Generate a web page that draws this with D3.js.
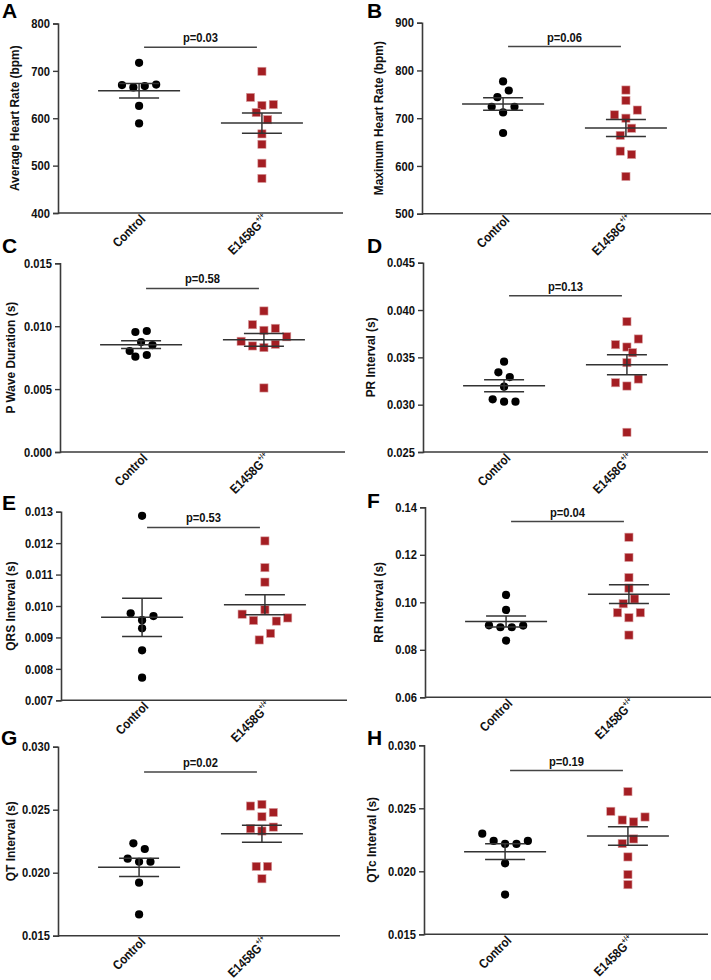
<!DOCTYPE html>
<html>
<head>
<meta charset="utf-8">
<script src="https://cdn.jsdelivr.net/npm/d3@7"></script>
<style>
  body { margin: 0; background: #fff; }
  svg { display: block; }
  .narrow { font-family: "Liberation Sans", Arial, sans-serif; font-weight: bold; }
  .letter { font-family: "Liberation Sans", Arial, sans-serif; font-weight: bold; font-size: 21px; }
</style>
</head>
<body>
<script>
const groups = ['Control', 'E1458G'];
const letters = ['A', 'B', 'C', 'D', 'E', 'F', 'G', 'H'];
const yLabels = ['Average Heart Rate (bpm)', 'Maximum Heart Rate (bpm)', 'P Wave Duration (s)', 'PR Interval (s)',
  'QRS Interval (s)', 'RR Interval (s)', 'QT Interval (s)', 'QTc Interval (s)'];
const pLabels = ['p=0.03', 'p=0.06', 'p=0.58', 'p=0.13', 'p=0.53', 'p=0.04', 'p=0.02', 'p=0.19'];
// height of the p-value bar, in each panel's own units
const pBarLevels = [750, 850, 0.013, 0.0415, 0.0125, 0.134, 0.028, 0.028];

// A: average heart rate
const avgHrCtrl = [717, 670, 665, 668, 671, 626, 589];
const avgHrMut = [699, 644, 627, 629, 612, 597, 567, 545, 505, 473];
const avgHrTicks = ['400', '500', '600', '700', '800'];
// B: maximum heart rate
const maxHrCtrl = [777, 744, 758, 724, 712, 724, 669];
const maxHrMut = [759, 737, 707, 700, 717, 664, 679, 631, 624, 578];
const maxHrTicks = ['500', '600', '700', '800', '900'];
// C: P wave duration
const pWaveCtrl = [0.00954, 0.00962, 0.00803, 0.00874, 0.0085, 0.00758, 0.00771];
const pWaveMut = [0.01121, 0.01012, 0.00967, 0.00983, 0.0088, 0.00843, 0.0083, 0.00856, 0.00916, 0.00509];
const pWaveTicks = ['0.000', '0.005', '0.010', '0.015'];
// D: PR interval
const prCtrl = [0.03454, 0.03342, 0.03292, 0.0319, 0.03056, 0.03032, 0.03032];
const prMut = [0.03877, 0.03634, 0.03609, 0.03694, 0.03549, 0.03444, 0.03232, 0.03197, 0.03271, 0.02708];
const prTicks = ['0.025', '0.030', '0.035', '0.040', '0.045'];
// E: QRS interval
const qrsCtrl = [0.01287, 0.00977, 0.00955, 0.00968, 0.00929, 0.00859, 0.00772];
const qrsMut = [0.01207, 0.01122, 0.01076, 0.00974, 0.00954, 0.00988, 0.00952, 0.00962, 0.00892, 0.00913];
const qrsTicks = ['0.007', '0.008', '0.009', '0.010', '0.011', '0.012', '0.013'];
// F: RR interval
const rrCtrl = [0.1031, 0.0968, 0.0903, 0.0895, 0.0895, 0.0902, 0.0839];
const rrMut = [0.1274, 0.1189, 0.1104, 0.106, 0.0994, 0.1014, 0.0956, 0.0935, 0.0956, 0.0862];
const rrTicks = ['0.06', '0.08', '0.10', '0.12', '0.14'];
// G: QT interval
const qtCtrl = [0.02233, 0.02188, 0.02111, 0.02087, 0.02087, 0.01921, 0.01669];
const qtMut = [0.02529, 0.02542, 0.02478, 0.02444, 0.02349, 0.02331, 0.02362, 0.0205, 0.0205, 0.01952];
const qtTicks = ['0.015', '0.020', '0.025', '0.030'];
// H: QTc interval
const qtcCtrl = [0.02299, 0.02241, 0.02217, 0.02217, 0.02241, 0.02063, 0.01815];
const qtcMut = [0.02632, 0.02476, 0.02407, 0.02392, 0.02431, 0.0222, 0.02257, 0.02114, 0.01974, 0.01894];
const qtcTicks = ['0.015', '0.020', '0.025', '0.030'];

const seriesCtrl = [avgHrCtrl, maxHrCtrl, pWaveCtrl, prCtrl, qrsCtrl, rrCtrl, qtCtrl, qtcCtrl];
const seriesMut = [avgHrMut, maxHrMut, pWaveMut, prMut, qrsMut, rrMut, qtMut, qtcMut];
const tickSets = [avgHrTicks, maxHrTicks, pWaveTicks, prTicks, qrsTicks, rrTicks, qtTicks, qtcTicks];

// plot frames: [axis x, right end, top, bottom]
const frames = [
  [58, 343, 23.5, 213], [422, 711, 22.7, 213.7],
  [60, 345, 263.3, 452], [423, 708, 262.7, 452],
  [61, 347, 511.7, 700.3], [425, 711, 507.3, 697.3],
  [58, 340, 746.7, 935.7], [424, 708, 745.3, 934.3]
];
const letterPos = [[2, 18], [367, 18], [2, 253], [367, 253], [2, 510], [367, 508], [1, 745], [367, 745]];

const axisColor = '#3a3a3a';
const red = '#a41e23';
const mark = 8.2;   // marker size
const half = 5.7;   // horizontal spread step

const svg = d3.select('body').append('svg').attr('width', 711).attr('height', 980);

// the figure uses a narrow face: squeeze the regular bold one
function narrow(sel, factor) {
  sel.each(function() {
    const w = this.getComputedTextLength();
    d3.select(this).attr('textLength', w * (factor || 0.86)).attr('lengthAdjust', 'spacingAndGlyphs');
  });
}

// spread points that sit at almost the same height into centred rows
function spread(values, y) {
  const pts = values.map(function(v, i) { return { v: v, i: i, py: y(v), dx: 0 }; });
  const sorted = pts.slice().sort(function(a, b) { return a.py - b.py; });
  const rows = [];
  let row = null;
  sorted.forEach(function(p) {
    if (row && p.py - row[row.length - 1].py < 8.5 && p.py - row[0].py < 11.8) row.push(p);
    else { row = [p]; rows.push(row); }
  });
  const placed = [];
  rows.forEach(function(r) {
    r.sort(function(a, b) { return a.i - b.i; });
    const base = r.map(function(p, k) { return (k - (r.length - 1) / 2) * 2 * half; });
    const shifts = [0, 1, -1, 2, -2, 3, -3, 4, -4];
    for (const s of shifts) {
      const ok = r.every(function(p, k) {
        const x = base[k] + s * half;
        return placed.every(function(q) { return Math.hypot(x - q.dx, p.py - q.py) >= 8; });
      });
      if (ok) {
        r.forEach(function(p, k) { p.dx = base[k] + s * half; });
        break;
      }
    }
    r.forEach(function(p) { placed.push(p); });
  });
  return pts;
}

function panel(k) {
  const f = frames[k];
  const ticks = tickSets[k].map(Number);
  const g = svg.append('g');

  const x = d3.scalePoint().domain(groups).range([f[0], f[0] + 285]).padding(0.66);
  const y = d3.scaleLinear().domain([ticks[0], ticks[ticks.length - 1]]).range([f[3], f[2]]);

  // y axis
  const yAxis = g.append('g')
    .attr('transform', 'translate(' + f[0] + ',0)')
    .call(d3.axisLeft(y).tickValues(ticks).tickSizeOuter(0).tickSize(5).tickPadding(3)
      .tickFormat(function(d, i) { return tickSets[k][i]; }));
  yAxis.select('.domain').attr('stroke', axisColor).attr('stroke-width', 1.6);
  yAxis.selectAll('.tick line').attr('stroke', axisColor).attr('stroke-width', 1.4);
  yAxis.selectAll('.tick text').attr('class', 'narrow').attr('font-size', 13).attr('fill', '#111')
    .call(narrow);

  // x axis line
  g.append('line')
    .attr('x1', f[0]).attr('x2', f[1]).attr('y1', f[3]).attr('y2', f[3])
    .attr('stroke', axisColor).attr('stroke-width', 1.6);

  // x labels
  const xl = g.append('g').selectAll('text').data(groups).enter().append('text')
    .attr('class', 'narrow').attr('font-size', 13).attr('fill', '#111')
    .attr('text-anchor', 'end')
    .attr('transform', function(d) { return 'translate(' + (x(d) + 7) + ',' + (f[3] + 7) + ') rotate(-45)'; });
  xl.append('tspan').text(function(d) { return d; }).call(narrow);
  xl.filter(function(d) { return d !== 'Control'; })
    .append('tspan').attr('font-size', 7.5).attr('dy', -6).text('+/+').call(narrow);

  // y label
  const tb = yAxis.node().getBBox();
  const cy = (f[2] + f[3]) / 2;
  const lx = Math.max(f[0] + tb.x - 12, (k % 2 ? 355 : 0) + 15);
  g.append('text').attr('class', 'narrow').attr('font-size', 12.8).attr('fill', '#111')
    .attr('text-anchor', 'middle')
    .attr('transform', 'translate(' + lx + ',' + cy + ') rotate(-90)')
    .text(yLabels[k]).call(narrow, 0.93);

  // panel letter
  g.append('text').attr('class', 'letter').attr('x', letterPos[k][0]).attr('y', letterPos[k][1]).text(letters[k]);

  // points
  const ctrl = spread(seriesCtrl[k], y);
  const mut = spread(seriesMut[k], y);
  g.append('g').selectAll('circle').data(ctrl).enter().append('circle')
    .attr('cx', function(d) { return x(groups[0]) + d.dx; })
    .attr('cy', function(d) { return d.py; })
    .attr('r', mark / 2).attr('fill', '#000');
  g.append('g').selectAll('rect').data(mut).enter().append('rect')
    .attr('x', function(d) { return x(groups[1]) + d.dx - mark / 2; })
    .attr('y', function(d) { return d.py - mark / 2; })
    .attr('width', mark).attr('height', mark)
    .attr('fill', red).attr('stroke', '#d9a0a2').attr('stroke-width', 0.6);

  // mean and SEM
  [seriesCtrl[k], seriesMut[k]].forEach(function(vals, gi) {
    const m = d3.mean(vals);
    const sem = d3.deviation(vals) / Math.sqrt(vals.length);
    const cx = x(groups[gi]);
    const eg = g.append('g').attr('stroke', '#333').attr('stroke-width', 1.5);
    eg.append('line').attr('x1', cx - 41).attr('x2', cx + 41).attr('y1', y(m)).attr('y2', y(m));
    eg.append('line').attr('x1', cx).attr('x2', cx).attr('y1', y(m - sem)).attr('y2', y(m + sem));
    eg.append('line').attr('x1', cx - 20).attr('x2', cx + 20).attr('y1', y(m + sem)).attr('y2', y(m + sem));
    eg.append('line').attr('x1', cx - 20).attr('x2', cx + 20).attr('y1', y(m - sem)).attr('y2', y(m - sem));
  });

  // p-value bar
  const py = y(pBarLevels[k]);
  const x1 = x(groups[0]) + 5, x2 = x(groups[1]) - 5;
  g.append('line').attr('x1', x1).attr('x2', x2).attr('y1', py).attr('y2', py)
    .attr('stroke', '#444').attr('stroke-width', 1.5);
  g.append('text').attr('class', 'narrow').attr('font-size', 13).attr('fill', '#111')
    .attr('text-anchor', 'middle').attr('x', (x1 + x2) / 2).attr('y', py - 5)
    .text(pLabels[k]).call(narrow);
}

for (let k = 0; k < 8; k++) panel(k);
</script>
</body>
</html>
